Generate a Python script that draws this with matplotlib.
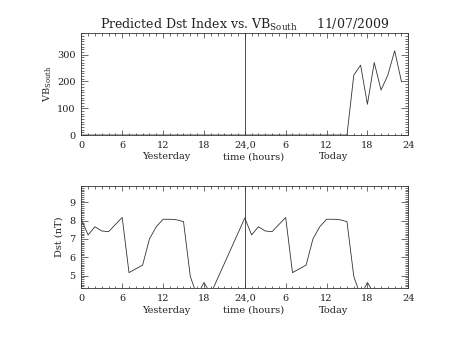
import numpy as np
import matplotlib
matplotlib.use("Agg")
import matplotlib.pyplot as plt
from matplotlib.ticker import MultipleLocator, FixedLocator

plt.rcParams["font.family"] = "DejaVu Serif"
plt.rcParams["mathtext.fontset"] = "dejavuserif"

# ── data (hours since start of yesterday, 0..48) ─────────────
vb_hours = [0, 39, 40, 41, 42, 43, 44, 45, 46, 47]
vb_south = [0, 0, 224, 261, 115, 271, 168, 224, 315, 199]

dst_hours = [0, 1, 2, 3, 4, 6, 7, 9, 10, 11, 12, 13, 14, 15, 16, 17, 18, 19,
             24, 25, 26, 27, 28, 30, 31, 33, 34, 35, 36, 37, 38, 39, 40, 41, 42, 43]
dst_vals = [8.08, 7.22, 7.67, 7.44, 7.40, 8.18, 5.16, 5.57, 7.00, 7.67, 8.08, 8.08,
            8.05, 7.95, 4.95, 3.88, 4.62, 4.00,
            8.15, 7.22, 7.67, 7.44, 7.40, 8.18, 5.16, 5.57, 7.00, 7.67, 8.08, 8.08,
            8.05, 7.95, 4.95, 3.88, 4.62, 4.00]

xtick_pos = [0, 6, 12, 18, 24, 30, 36, 42, 48]
xtick_lab = ["0", "6", "12", "18", "24,0", "6", "12", "18", "24"]

INK = "#222222"
LINE = "#333333"


def style_axes(ax, ymajor, yminor):
    ax.set_xlim(0, 48)
    ax.xaxis.set_major_locator(FixedLocator(xtick_pos))
    ax.xaxis.set_minor_locator(MultipleLocator(1))
    ax.set_xticklabels(xtick_lab)
    ax.yaxis.set_major_locator(MultipleLocator(ymajor))
    ax.yaxis.set_minor_locator(MultipleLocator(yminor))
    for s in ax.spines.values():
        s.set_linewidth(0.6)
        s.set_color(LINE)
    ax.tick_params(which="both", direction="in", top=True, right=True,
                   colors=LINE, labelcolor=INK, labelsize=7, width=0.5)
    ax.tick_params(axis="x", which="major", length=3.5, pad=4)
    ax.tick_params(axis="x", which="minor", length=1.8)
    ax.tick_params(axis="y", which="major", length=5, pad=4)
    ax.tick_params(axis="y", which="minor", length=2.5)
    ax.axvline(24, color=LINE, lw=0.6)
    # under-axis labels
    for x, s in [(12.4, "Yesterday"), (25.3, "time (hours)"), (37.0, "Today")]:
        ax.text(x, -0.215, s, transform=ax.get_xaxis_transform(),
                ha="center", va="center", fontsize=7, color=INK)


fig = plt.figure(figsize=(4.53, 3.40), dpi=100)
fig.patch.set_facecolor("white")

ax1 = fig.add_axes([0.1795, 0.6029, 0.7218, 0.2991])
ax1.plot(vb_hours, vb_south, color=LINE, lw=0.6)
ax1.set_ylim(0, 380)
style_axes(ax1, 100, 10)
ax1.set_ylabel(r"VB$_{\mathrm{South}}$", fontsize=7, color=INK, labelpad=2)
ax1.set_title(r"Predicted Dst Index vs. VB$_{\mathrm{South}}$     11/07/2009",
              fontsize=9, color=INK, pad=3)

ax2 = fig.add_axes([0.1795, 0.152, 0.7218, 0.3009])
ax2.plot(dst_hours, dst_vals, color=LINE, lw=0.6)
ax2.set_ylim(4.3, 9.9)
style_axes(ax2, 1, 0.1)
ax2.set_ylabel("Dst (nT)", fontsize=7, color=INK, labelpad=4)

fig.savefig("out.png", dpi=100, facecolor="white")
